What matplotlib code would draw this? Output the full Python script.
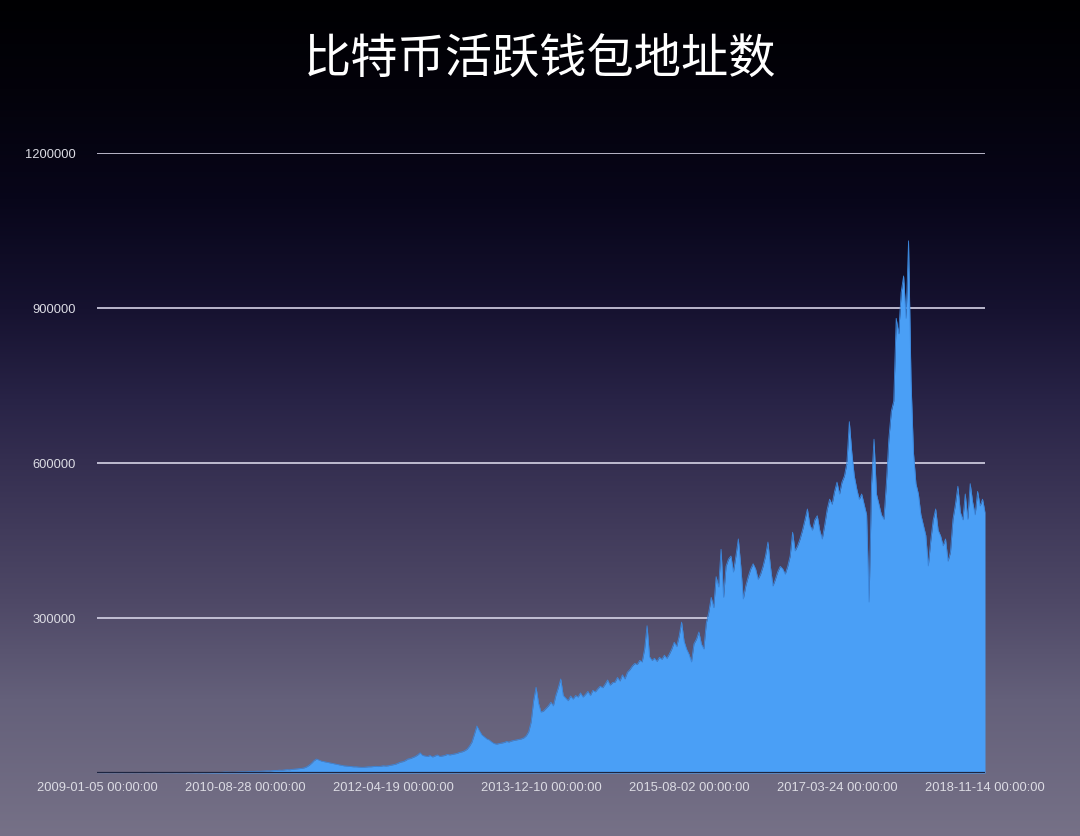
import matplotlib
matplotlib.use("Agg")
import matplotlib.pyplot as plt
import numpy as np
import pandas as pd

# active bitcoin wallet addresses, in thousands, one value every 10 days
# starting 2009-01-05 and ending 2018-11-14
y2009 = [0.1, 0.2, 0.2, 0.3, 0.3, 0.2, 0.2, 0.3, 0.2, 0.2, 0.3, 0.2, 0.2, 0.2, 0.3, 0.2, 0.2, 0.3,
         0.2, 0.2, 0.3, 0.3, 0.2, 0.3, 0.3, 0.4, 0.3, 0.3, 0.4, 0.4, 0.3, 0.4, 0.5, 0.4, 0.5, 0.5]
y2010 = [0.5, 0.6, 0.5, 0.6, 0.7, 0.6, 0.7, 0.8, 0.7, 0.8, 0.9, 1.0, 1.1, 1.0, 1.2, 1.5, 2.0, 1.8,
         1.6, 1.5, 1.7, 1.9, 2.1, 2.4, 2.2, 2.5, 2.8, 3.0, 3.2, 3.5, 3.3, 3.6, 3.9, 4.2, 4.0, 4.5]
y2011 = [4.8, 5.0, 5.5, 5.3, 6.0, 6.5, 6.2, 7.0, 7.5, 8.0, 8.5, 9.0, 10, 12, 15, 19, 24, 27,
         25, 23, 22, 21, 20, 19, 18, 17, 16, 15, 14, 13.5, 13, 12.5, 12, 12, 11.5, 11]
y2012 = [11, 11.5, 12, 12, 12.5, 13, 12.5, 13, 14, 13.5, 14, 15, 16, 17, 19, 21, 22, 24,
         27, 28, 30, 32, 35, 39, 34, 33, 32, 34, 31, 33, 35, 32, 33, 34, 36, 35]
y2013 = [36, 37, 38, 40, 41, 43, 46, 52, 60, 75, 91, 82, 74, 70, 66, 64, 60, 57,
         56, 57, 58, 59, 61, 60, 62, 63, 64, 65, 66, 68, 72, 80, 99, 140, 166, 135]
y2014 = [118, 120, 125, 130, 137, 130, 150, 165, 182, 150, 145, 140, 149, 143, 150, 147, 155, 147,
         152, 158, 150, 160, 157, 163, 168, 165, 172, 180, 170, 175, 176, 185, 178, 190, 182, 195]
y2015 = [200, 207, 212, 210, 218, 215, 240, 285, 225, 218, 222, 216, 224, 220, 228, 222, 230, 240,
         253, 245, 265, 292, 255, 240, 230, 215, 250, 259, 273, 250, 240, 290, 311, 340, 320, 380]
y2016 = [360, 433, 340, 400, 414, 420, 389, 420, 453, 400, 337, 362, 380, 395, 405, 395, 375, 385,
         400, 420, 447, 400, 362, 375, 390, 400, 395, 385, 400, 420, 466, 430, 440, 453, 470, 490]
y2017 = [511, 480, 470, 490, 498, 470, 453, 480, 510, 530, 520, 545, 563, 540, 563, 575, 600, 680,
         620, 575, 550, 530, 540, 520, 500, 331, 560, 646, 540, 520, 500, 491, 560, 646, 700, 720]
y2018 = [880, 850, 930, 962, 880, 1030, 760, 620, 560, 540, 500, 480, 460, 401, 450, 490, 511, 470,
         459, 440, 453, 410, 428, 491, 520, 555, 505, 490, 540, 491, 560, 524, 500, 545, 517, 530, 505]

values = np.array(y2009 + y2010 + y2011 + y2012 + y2013 + y2014 + y2015 + y2016 + y2017 + y2018) * 1000
dates = pd.date_range("2009-01-05", periods=len(values), freq="10D")

tick_dates = ["2009-01-05", "2010-08-28", "2012-04-19", "2013-12-10",
              "2015-08-02", "2017-03-24", "2018-11-14"]
y_ticks = [300000, 600000, 900000, 1200000]

W, H = 1080, 837
fig = plt.figure(figsize=(W / 100, H / 100), dpi=100)

# background gradient: black at the top, navy, then grey-violet at the bottom
stop_y = [0, 90, 200, 310, 400, 460, 600, 700, 837]
stop_rgb = [(0, 0, 2), (3, 2, 10), (8, 6, 26), (22, 18, 48), (40, 35, 70),
            (52, 46, 80), (78, 72, 102), (100, 96, 122), (118, 113, 135)]
rows = np.arange(H)
stop_rgb = np.array(stop_rgb) / 255
grad = np.stack([np.interp(rows, stop_y, stop_rgb[:, k]) for k in range(3)], axis=1)
bg = fig.add_axes([0, 0, 1, 1], zorder=-1)
bg.imshow(grad[:, None, :], aspect="auto", extent=[0, 1, 0, 1])
bg.axis("off")

ax = fig.add_axes([97 / W, 1 - 774 / H, (985 - 97) / W, (774 - 154) / H])
ax.patch.set_alpha(0)
ax.set_axisbelow(True)

ax.fill_between(dates, 0, values, color="#4a9ff6", linewidth=0, zorder=2)
ax.plot(dates, values, color="#3a86dc", linewidth=0.6, zorder=3)
ax.axhline(0, color="#1c2440", linewidth=1.6, zorder=4)

ax.set_xlim(pd.Timestamp(tick_dates[0]), pd.Timestamp(tick_dates[-1]))
ax.set_ylim(0, 1200000)

ax.set_yticks(y_ticks)
ax.set_yticklabels([str(v) for v in y_ticks])
ax.set_xticks([pd.Timestamp(d) for d in tick_dates])
ax.set_xticklabels([d + " 00:00:00" for d in tick_dates])
ax.yaxis.grid(True, color="#d6d3e6", linewidth=1.2)

for s in ax.spines.values():
    s.set_visible(False)
ax.tick_params(axis="both", length=0, colors="#dcdce4", labelsize=9.3)
ax.tick_params(axis="y", pad=15)
ax.tick_params(axis="x", pad=6)
for lab in ax.get_xticklabels() + ax.get_yticklabels():
    lab.set_family(["Liberation Sans", "DejaVu Sans"])

fig.text(0.5, 1 - 61 / H, "比特币活跃钱包地址数", ha="center", va="center",
         fontsize=34, color="white", fontweight="light",
         family=["Noto Sans CJK SC", "DejaVu Sans"])

fig.savefig("out.png", dpi=100)
